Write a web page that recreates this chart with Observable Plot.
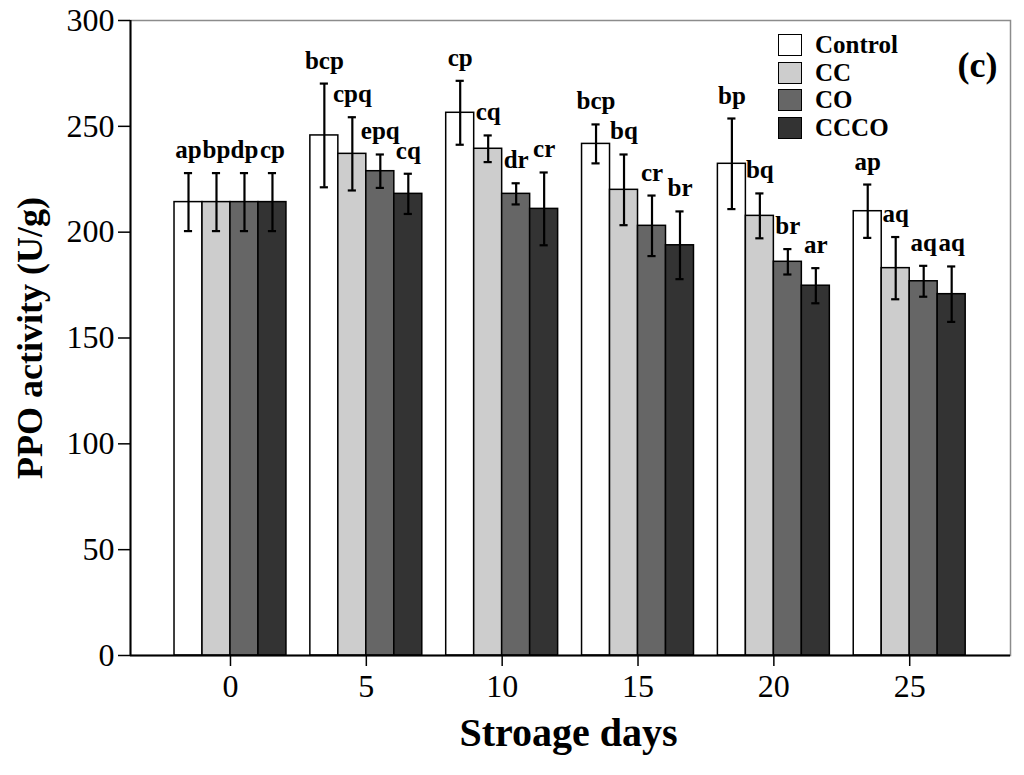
<!DOCTYPE html>
<html>
<head>
<meta charset="utf-8">
<script src="https://cdn.jsdelivr.net/npm/d3@7"></script>
<script src="https://cdn.jsdelivr.net/npm/@observablehq/plot@0.6"></script>
<style>
  body { margin: 0; background: #fff; }
  #wrap { position: relative; width: 1024px; height: 775px; overflow: hidden; }
  #legend { position: absolute; left: 778px; top: 31px; font: bold 25px "Liberation Serif", serif; }
  #legend .row { display: flex; align-items: center; height: 27.7px; }
  #legend .sw { width: 22px; height: 20px; border: 1.5px solid #000; margin-right: 13px; }
</style>
</head>
<body>
<div id="wrap">
  <div id="chart"></div>
  <div id="legend"></div>
</div>
<script>
const days = [0, 5, 10, 15, 20, 25]
const treatments = ['Control', 'CC', 'CO', 'CCCO']
const colores = ['#ffffff', '#cdcdcd', '#666666', '#333333']

// medias y desvios (U/g)
const control = [214.2, 245.7, 256.4, 241.7, 232.3, 209.9]
const controlSd = [13.7, 24.5, 15.1, 9.2, 21.4, 12.6]
const cc = [214.2, 237.0, 239.4, 220.0, 207.7, 183.0]
const ccSd = [13.7, 17.3, 6.3, 16.7, 10.6, 14.7]
const co = [214.2, 228.8, 218.1, 203.0, 186.0, 176.8]
const coSd = [13.7, 7.9, 5.0, 14.3, 6.0, 7.3]
const ccco = [214.2, 218.1, 211.0, 193.8, 174.7, 170.7]
const cccoSd = [13.7, 9.5, 17.2, 16.0, 8.3, 13.1]

const controlLetras = ['ap', 'bcp', 'cp', 'bcp', 'bp', 'ap']
const ccLetras = ['bp', 'cpq', 'cq', 'bq', 'bq', 'aq']
const coLetras = ['dp', 'epq', 'dr', 'cr', 'br', 'aq']
const cccoLetras = ['cp', 'cq', 'cr', 'br', 'ar', 'aq']

const yTicks = [0, 50, 100, 150, 200, 250, 300]

const series = [
  [control, controlSd, controlLetras],
  [cc, ccSd, ccLetras],
  [co, coSd, coLetras],
  [ccco, cccoSd, cccoLetras],
]

// ancho de cada barra en dias
const bw = 1.03
const xDomain = [-3.68, 28.71]

const data = []
series.forEach(([vals, sds, letras], i) => {
  days.forEach((day, j) => {
    const x1 = day + (i - 2) * bw
    data.push({
      day,
      treatment: treatments[i],
      value: vals[j],
      sd: sds[j],
      label: letras[j],
      x1,
      x2: x1 + bw,
      xc: x1 + bw / 2,
    })
  })
})

const chart = Plot.plot({
  width: 1024,
  height: 775,
  marginLeft: 130,
  marginRight: 14,
  marginTop: 20,
  marginBottom: 120,
  style: { fontFamily: '"Liberation Serif", serif', color: '#000', background: '#fff' },
  x: { domain: xDomain },
  y: { domain: [0, 300] },
  color: { domain: treatments, range: colores },
  marks: [
    Plot.frame({ stroke: '#8c8c8c', strokeWidth: 1.5 }),
    Plot.rect(data, {
      x1: 'x1', x2: 'x2', y1: 0, y2: 'value',
      fill: 'treatment', stroke: '#000', strokeWidth: 1.5,
    }),
    Plot.ruleX(data, {
      x: 'xc', y1: d => d.value - d.sd, y2: d => d.value + d.sd,
      stroke: '#000', strokeWidth: 2.2,
    }),
    Plot.ruleY(data, {
      y: d => d.value + d.sd, x1: d => d.xc - 0.15, x2: d => d.xc + 0.15,
      stroke: '#000', strokeWidth: 2.2,
    }),
    Plot.ruleY(data, {
      y: d => d.value - d.sd, x1: d => d.xc - 0.15, x2: d => d.xc + 0.15,
      stroke: '#000', strokeWidth: 2.2,
    }),
    Plot.text(data, {
      x: 'xc', y: d => d.value + d.sd, text: 'label',
      dy: -15, lineAnchor: 'bottom', fontSize: 25, fontWeight: 'bold',
    }),
    Plot.ruleY([0], { stroke: '#000', strokeWidth: 2 }),
    Plot.ruleX([xDomain[0]], { stroke: '#000', strokeWidth: 2 }),
    Plot.axisY({
      ticks: yTicks, tickSize: 12, tickPadding: 4, fontSize: 32,
      label: null, strokeWidth: 1.5,
    }),
    Plot.axisX({
      ticks: days, tickSize: 11, tickPadding: 8, fontSize: 32,
      label: null, strokeWidth: 1.5,
    }),
    Plot.text(['Stroage days'], {
      frameAnchor: 'bottom', dy: 90, dx: -2, fontSize: 40, fontWeight: 'bold',
    }),
    Plot.text(['PPO activity (U/g)'], {
      frameAnchor: 'left', textAnchor: 'middle', dx: -100, rotate: -90,
      fontSize: 36, fontWeight: 'bold',
    }),
    Plot.text(['(c)'], {
      frameAnchor: 'top-right', dx: -13, dy: 31, fontSize: 36, fontWeight: 'bold',
    }),
  ],
})

d3.select('#chart').append(() => chart)

const legend = d3.select('#legend')
treatments.forEach((t, i) => {
  const row = legend.append('div').attr('class', 'row')
  row.append('div').attr('class', 'sw').style('background', colores[i])
  row.append('span').text(t)
})
</script>
</body>
</html>
